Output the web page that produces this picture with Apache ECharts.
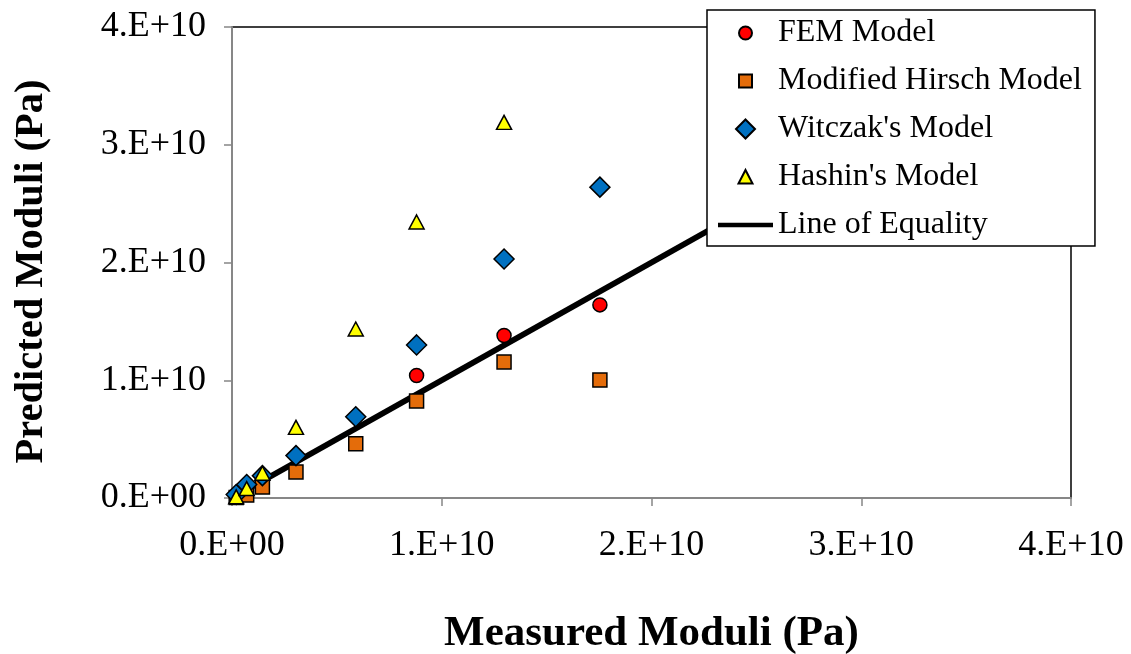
<!DOCTYPE html>
<html>
<head>
<meta charset="utf-8">
<script src="https://cdn.jsdelivr.net/npm/echarts@6/dist/echarts.min.js"></script>
<style>
  html, body { margin: 0; padding: 0; background: #fff; }
  #chart { width: 1131px; height: 654px; }
</style>
</head>
<body>
<div id="chart"></div>
<script>
// Moduli in units of 1E10 Pa
const SCALE = 1e10;
const measuredAll = [0.02, 0.07, 0.145, 0.305, 0.59, 0.88, 1.297, 1.754];
const measuredFEM = [0.88, 1.297, 1.754];

const femPred = [1.04, 1.38, 1.64];
const hirschPred = [0.005, 0.025, 0.093, 0.221, 0.46, 0.824, 1.155, 1.002];
const witczakPred = [0.03, 0.115, 0.19, 0.36, 0.69, 1.30, 2.03, 2.64];
const hashinPred = [0.01, 0.08, 0.21, 0.60, 1.435, 2.344, 3.19];

const equalityLine = [0, 4];
const axisTicks = [0, 1, 2, 3, 4];

const seriesNames = ['FEM Model', 'Modified Hirsch Model', "Witczak's Model", "Hashin's Model", 'Line of Equality'];
const titleX = 'Measured Moduli (Pa)';
const titleY = 'Predicted Moduli (Pa)';

function pairs(xs, ys) {
  return ys.map((y, i) => [xs[i] * SCALE, y * SCALE]);
}

function sci(v) {
  const m = Math.round(v / SCALE);
  return m === 0 ? '0.E+00' : m + '.E+10';
}

// Legend glyphs; the leading moves pad each shape inside a common 19x19 frame
// so the smaller markers keep their size next to the diamond.
const PAD = 'M0,0 M19,19 ';
const legendIcons = {
  circle: 'path://' + PAD + 'M16,9.5 A6.5,6.5 0 1 1 3,9.5 A6.5,6.5 0 1 1 16,9.5 Z',
  rect: 'path://' + PAD + 'M3,3 L16,3 L16,16 L3,16 Z',
  diamond: 'path://M9.5,0 L19,9.5 L9.5,19 L0,9.5 Z',
  triangle: 'path://' + PAD + 'M9.5,2.5 L16.5,16 L2.5,16 Z',
  line: 'path://M0,0 L55,0 L55,4.5 L0,4.5 Z'
};

const FONT = 'Liberation Serif';
const markerBorder = { borderColor: '#000', borderWidth: 1.5, opacity: 1 };

const chart = echarts.init(document.getElementById('chart'), null, { renderer: 'canvas' });

const axisCommon = {
  type: 'value',
  min: axisTicks[0] * SCALE,
  max: axisTicks[axisTicks.length - 1] * SCALE,
  interval: SCALE,
  splitLine: { show: false },
  axisLine: { show: true, lineStyle: { color: '#878787', width: 2 } },
  axisTick: { show: true, inside: false, length: 8, lineStyle: { color: '#878787', width: 1.5 } },
  axisLabel: { formatter: sci, color: '#000', fontFamily: FONT, fontSize: 36 },
  nameLocation: 'middle'
};

chart.setOption({
  animation: false,
  backgroundColor: '#fff',
  grid: {
    left: 232, right: 60, top: 27, bottom: 156,
    outerBoundsMode: 'none',
    containLabel: false,
    show: true, borderColor: '#000', borderWidth: 1.5, backgroundColor: 'transparent'
  },
  xAxis: Object.assign({}, axisCommon, {
    name: titleX,
    nameGap: 114,
    nameTextStyle: { color: '#000', fontFamily: FONT, fontSize: 43, fontWeight: 'bold' },
    axisLabel: Object.assign({}, axisCommon.axisLabel, { margin: 30 })
  }),
  yAxis: Object.assign({}, axisCommon, {
    name: titleY,
    nameGap: 180,
    nameTextStyle: { color: '#000', fontFamily: FONT, fontSize: 40.5, fontWeight: 'bold', padding: [0, 18, 0, 0] },
    axisLabel: Object.assign({}, axisCommon.axisLabel, { margin: 26 })
  }),
  legend: {
    orient: 'vertical',
    left: 707, top: 10,
    padding: [7, 13, 5, 11],
    itemWidth: 55, itemHeight: 19, itemGap: 16,
    symbolKeepAspect: true,
    backgroundColor: '#fff',
    borderColor: '#000', borderWidth: 1.5,
    textStyle: { color: '#000', fontFamily: FONT, fontSize: 32 },
    data: [
      { name: seriesNames[0], icon: legendIcons.circle },
      { name: seriesNames[1], icon: legendIcons.rect },
      { name: seriesNames[2], icon: legendIcons.diamond },
      { name: seriesNames[3], icon: legendIcons.triangle },
      { name: seriesNames[4], icon: legendIcons.line }
    ],
    z: 10
  },
  series: [
    {
      name: seriesNames[4], type: 'line', z: 3,
      data: pairs(equalityLine, equalityLine),
      symbol: 'none', showSymbol: false,
      lineStyle: { color: '#000', width: 6 },
      itemStyle: { color: '#000' }
    },
    {
      name: seriesNames[1], type: 'scatter', z: 4,
      data: pairs(measuredAll, hirschPred),
      symbol: 'rect', symbolSize: 14,
      itemStyle: Object.assign({ color: '#E46C0A' }, markerBorder)
    },
    {
      name: seriesNames[0], type: 'scatter', z: 4,
      data: pairs(measuredFEM, femPred),
      symbol: 'circle', symbolSize: 14,
      itemStyle: Object.assign({ color: '#FF0000' }, markerBorder)
    },
    {
      name: seriesNames[2], type: 'scatter', z: 4,
      data: pairs(measuredAll, witczakPred),
      symbol: 'diamond', symbolSize: 20,
      itemStyle: Object.assign({ color: '#0070C0' }, markerBorder)
    },
    {
      name: seriesNames[3], type: 'scatter', z: 4,
      data: pairs(measuredAll, hashinPred),
      symbol: 'triangle', symbolSize: [15, 14],
      itemStyle: Object.assign({ color: '#FFFF00' }, markerBorder)
    }
  ]
});
</script>
</body>
</html>
